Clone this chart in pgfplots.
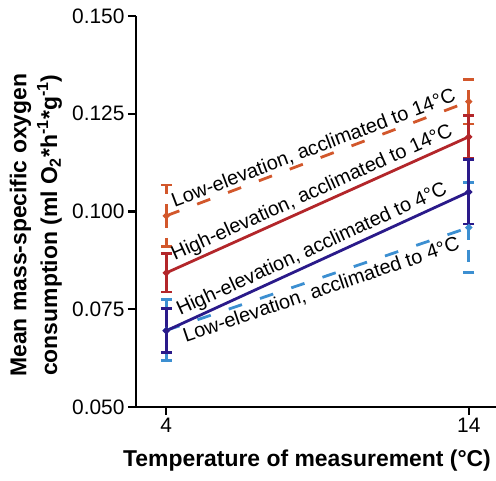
\documentclass[border=0pt]{standalone}
\usepackage{fontspec}
\setmainfont{Liberation Sans}
\usepackage{pgfplots}
\pgfplotsset{compat=1.18}
\definecolor{lowwarm}{HTML}{D2572B}
\definecolor{highwarm}{HTML}{B3262A}
\definecolor{highcold}{HTML}{2A1A8A}
\definecolor{lowcold}{HTML}{3C8FD1}
\begin{document}
\begin{tikzpicture}
\begin{axis}[
  name=ax,
  scale only axis,
  width=360bp, height=391bp,
  xmin=3, xmax=14.9, ymin=0.05, ymax=0.15,
  clip=false,
  axis lines*=left,
  axis line style={line width=2.2bp, -},
  xtick={4,14},
  ytick={0.05,0.075,0.1,0.125,0.15},
  tick align=outside,
  major tick length=8bp,
  tick style={line width=2.2bp, black},
  yticklabel style={/pgf/number format/.cd, fixed, fixed zerofill, precision=3},
  /pgf/number format/assume math mode=true,
  ticklabel style={font=\fontsize{21}{24}\selectfont},
  xlabel={Temperature of measurement (°C)},
  ylabel={Mean mass-specific oxygen\\consumption (ml O\textsubscript{2}*h\textsuperscript{-1}*g\textsuperscript{-1})},
  xlabel style={font=\bfseries\fontsize{23}{26}\selectfont, at={(axis description cs:0.475,-0.11)}, anchor=north, inner sep=0pt},
  ylabel style={font=\bfseries\fontsize{23}{31}\selectfont, align=center, at={(axis description cs:-0.205,0.465)}, anchor=south, inner sep=0pt},
  every axis plot/.append style={line width=2.8bp, mark=*, mark size=1.8bp, mark options={solid}},
  error bars/y dir=both,
  error bars/y explicit,
  error bars/error mark options={rotate=90, line width=2.8bp, mark size=5.5bp, solid},
]
% low elevation, acclimated to 14 C
\addplot[lowwarm, dash pattern=on 14bp off 19bp,
  error bars/error bar style={line width=2.8bp, dash pattern=on 12bp off 10bp}]
  coordinates {(4,0.0989) +- (0,0.0079) (14,0.1281) +- (0,0.0057)}
  node[pos=0.5, sloped, above, inner sep=1bp, text=black, font=\fontsize{20}{24}\selectfont] {Low-elevation, acclimated to 14°C};
% high elevation, acclimated to 14 C
\addplot[highwarm, error bars/error bar style={line width=2.8bp, solid}]
  coordinates {(4,0.0843) +- (0,0.0049) (14,0.1191) +- (0,0.0055)}
  node[pos=0.5, sloped, above, inner sep=2bp, text=black, font=\fontsize{20}{24}\selectfont] {High-elevation, acclimated to 14°C};
% low elevation, acclimated to 4 C
\addplot[lowcold, dash pattern=on 14bp off 19bp,
  error bars/error bar style={line width=2.8bp, dash pattern=on 12bp off 10bp}]
  coordinates {(4,0.0696) +- (0,0.0078) (14,0.0959) +- (0,0.0116)}
  node[pos=0.5, sloped, below, inner sep=2bp, text=black, font=\fontsize{20}{24}\selectfont] {Low-elevation, acclimated to 4°C};
% high elevation, acclimated to 4 C
\addplot[highcold, error bars/error bar style={line width=2.8bp, solid}]
  coordinates {(4,0.0695) +- (0,0.0056) (14,0.1050) +- (0,0.0082)}
  node[pos=0.5, sloped, above, inner sep=2bp, text=black, font=\fontsize{20}{24}\selectfont] {High-elevation, acclimated to 4°C};
\end{axis}
\pgfresetboundingbox
\useasboundingbox ([xshift=-136bp,yshift=-74bp]ax.south west) rectangle ([xshift=360bp,yshift=407bp]ax.south west);
\end{tikzpicture}
\end{document}
